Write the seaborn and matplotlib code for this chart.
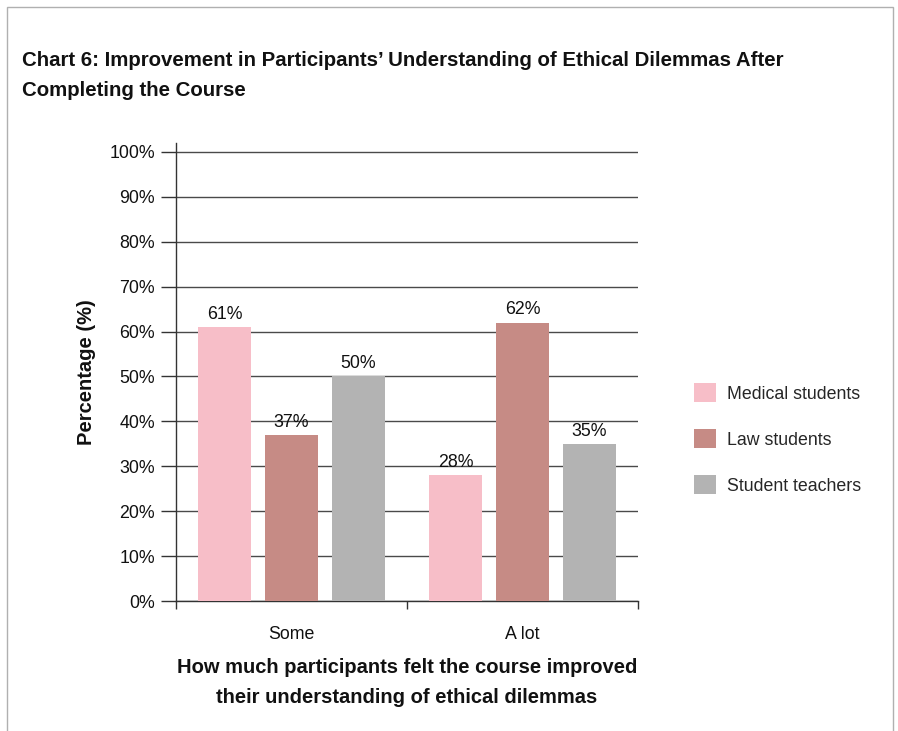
import matplotlib
matplotlib.use("Agg")
import matplotlib.pyplot as plt
import matplotlib.patches as mpatches
import matplotlib.ticker as mticker
import seaborn as sns
import pandas as pd

# Survey results
categories = ["Some", "A lot"]
groups = ["Medical students", "Law students", "Student teachers"]
medical = [61, 28]
law = [37, 62]
teachers = [50, 35]
colors = ["#F7BEC8", "#C68B85", "#B3B3B3"]

rows = []
for grp, vals in zip(groups, [medical, law, teachers]):
    for cat, v in zip(categories, vals):
        rows.append({"Improvement": cat, "Group": grp, "Percentage": v})
df = pd.DataFrame(rows)

sns.set_theme(style="white")
plt.rcParams["font.family"] = ["Liberation Sans", "DejaVu Sans"]

fig = plt.figure(figsize=(8.98, 7.31), dpi=100)
ax = fig.add_axes([176 / 898, 130 / 731, (638 - 176) / 898, (601 - 143) / 731])

sns.barplot(data=df, x="Improvement", y="Percentage", hue="Group",
            order=categories, hue_order=groups, palette=colors,
            width=0.87, gap=0.2, saturation=1, linewidth=0,
            ax=ax, legend=True, zorder=3)

ax.set_ylim(0, 102)
ax.set_xlim(-0.5, 1.5)
ax.yaxis.set_major_locator(mticker.FixedLocator(range(0, 101, 10)))
ax.yaxis.set_major_formatter(mticker.FuncFormatter(lambda v, _: f"{int(v)}%"))
ax.grid(axis="y", color="#4a4a4a", linewidth=1.0, zorder=0)
ax.set_axisbelow(True)

for s in ["top", "right"]:
    ax.spines[s].set_visible(False)
for s in ["left", "bottom"]:
    ax.spines[s].set_color("#333333")
    ax.spines[s].set_linewidth(1.0)

ax.tick_params(axis="y", which="major", direction="out", length=11, width=1,
               color="#333333", labelsize=12.8, labelcolor="#111111", pad=4, left=True)
ax.set_xticks([0, 1], categories)
ax.tick_params(axis="x", which="major", length=0, labelsize=12.8, labelcolor="#111111", pad=18)
ax.set_xticks([-0.5, 0.5, 1.5], minor=True)
ax.tick_params(axis="x", which="minor", direction="out", length=6, width=1,
               color="#333333", bottom=True)

for cont, vals in zip(ax.containers, [medical, law, teachers]):
    ax.bar_label(cont, labels=[f"{v}%" for v in vals], padding=3,
                 fontsize=12.8, color="#111111")

ax.set_ylabel("Percentage (%)", fontsize=14.5, fontweight="bold", labelpad=10, color="#111111")
ax.set_xlabel("How much participants felt the course improved\ntheir understanding of ethical dilemmas",
              fontsize=14.5, fontweight="bold", linespacing=1.75, labelpad=10.5, color="#111111")

leg = ax.legend(loc="center left", bbox_to_anchor=(694 / 898, 1 - 439 / 731),
                bbox_transform=fig.transFigure, frameon=False, fontsize=12.8,
                handlelength=1.25, handleheight=1.25, labelspacing=1.5,
                handletextpad=0.6, borderpad=0, borderaxespad=0)

fig.text(22 / 898, 1 - 75.5 / 731,
         "Chart 6: Improvement in Participants\u2019 Understanding of Ethical Dilemmas After\nCompleting the Course",
         fontsize=14.7, fontweight="bold", va="center", ha="left", color="#111111",
         linespacing=1.78)

fig.patches.append(mpatches.Rectangle((7 / 898, -0.05), (893 - 7) / 898, 1.05 - 7 / 731,
                                      transform=fig.transFigure, fill=False,
                                      edgecolor="#b0b0b0", linewidth=1.0))

fig.savefig("out.png", dpi=100, facecolor="white")
